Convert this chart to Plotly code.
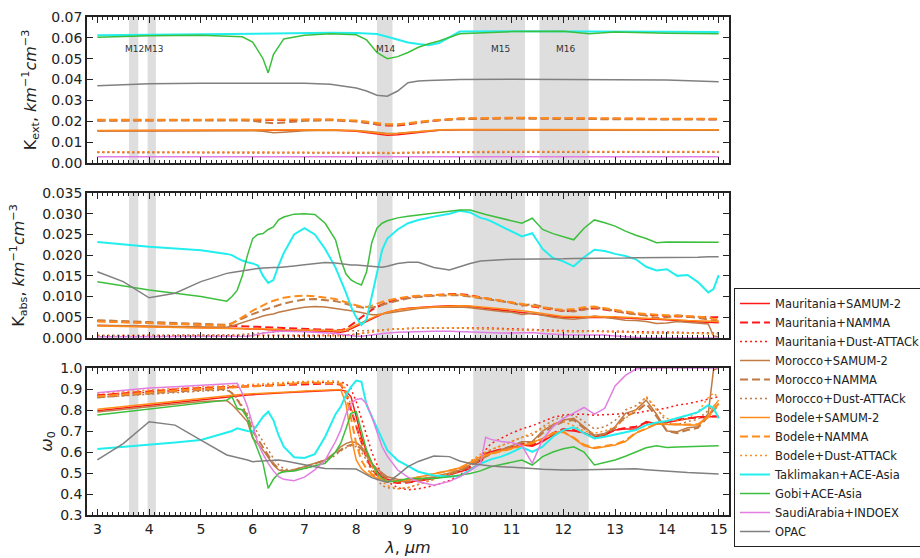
import plotly.graph_objects as go

# ---------------- wavelength grids (µm) ----------------
P1_WL = [3.0, 4.0, 5.0, 5.8, 6.0,
         6.2, 6.3, 6.4, 6.6, 7.0,
         7.5, 8.0, 8.2, 8.4, 8.6,
         8.8, 9.0, 9.2, 9.4, 9.6,
         10.0, 11.0, 12.0, 12.5, 13.0,
         14.0, 15.0]

WL = [3.0, 3.5, 4.0, 4.5, 5.0,
      5.5, 5.6, 5.7, 5.8, 5.9,
      6.0, 6.1, 6.2, 6.3, 6.4,
      6.5, 6.6, 6.8, 7.0, 7.2,
      7.4, 7.6, 7.7, 7.8, 7.9,
      8.0, 8.1, 8.2, 8.3, 8.4,
      8.5, 8.6, 8.8, 9.0, 9.2,
      9.5, 9.8, 10.0, 10.2, 10.4,
      10.5, 10.6, 10.8, 11.0, 11.2,
      11.4, 11.6, 11.8, 12.0, 12.2,
      12.4, 12.6, 12.8, 13.0, 13.2,
      13.4, 13.6, 13.8, 14.0, 14.2,
      14.4, 14.6, 14.8, 14.9, 15.0]

# ---------------- panel 1: K_ext ----------------
KEXT_MAU_SAM = [0.0155, 0.0156, 0.0157, 0.0157, 0.0157,
                0.0157, 0.0157, 0.0157, 0.0157, 0.0158,
                0.0158, 0.0152, 0.0145, 0.0138, 0.0133,
                0.0135, 0.0140, 0.0148, 0.0153, 0.0157,
                0.0160, 0.0160, 0.0158, 0.0159, 0.0159,
                0.0158, 0.0158]
KEXT_MAU_NAM = [0.0205, 0.0206, 0.0207, 0.0207, 0.0207,
                0.0206, 0.0205, 0.0205, 0.0206, 0.0207,
                0.0207, 0.0200, 0.0192, 0.0185, 0.0180,
                0.0180, 0.0185, 0.0193, 0.0200, 0.0205,
                0.0212, 0.0216, 0.0212, 0.0213, 0.0212,
                0.0210, 0.0210]
KEXT_MAU_DA = [0.0052, 0.0052, 0.0052, 0.0052, 0.0052,
               0.0052, 0.0052, 0.0052, 0.0052, 0.0052,
               0.0052, 0.0051, 0.0050, 0.0049, 0.0048,
               0.0048, 0.0049, 0.0050, 0.0051, 0.0052,
               0.0053, 0.0053, 0.0053, 0.0053, 0.0053,
               0.0053, 0.0053]
KEXT_MOR_SAM = [0.0154, 0.0155, 0.0156, 0.0156, 0.0155,
                0.0152, 0.0148, 0.0145, 0.0148, 0.0155,
                0.0157, 0.0156, 0.0152, 0.0146, 0.0142,
                0.0143, 0.0147, 0.0152, 0.0155, 0.0157,
                0.0159, 0.0159, 0.0158, 0.0158, 0.0159,
                0.0158, 0.0157]
KEXT_MOR_NAM = [0.0203, 0.0204, 0.0205, 0.0204, 0.0202,
                0.0198, 0.0193, 0.0190, 0.0194, 0.0202,
                0.0205, 0.0200, 0.0193, 0.0187, 0.0183,
                0.0183, 0.0188, 0.0195, 0.0201, 0.0205,
                0.0210, 0.0213, 0.0211, 0.0211, 0.0211,
                0.0209, 0.0208]
KEXT_MOR_DA = [0.0050, 0.0050, 0.0050, 0.0050, 0.0050,
               0.0049, 0.0048, 0.0048, 0.0049, 0.0050,
               0.0050, 0.0049, 0.0048, 0.0047, 0.0046,
               0.0046, 0.0047, 0.0048, 0.0049, 0.0050,
               0.0051, 0.0051, 0.0051, 0.0051, 0.0051,
               0.0051, 0.0051]
KEXT_BOD_SAM = [0.0156, 0.0157, 0.0158, 0.0158, 0.0158,
                0.0158, 0.0158, 0.0158, 0.0158, 0.0159,
                0.0159, 0.0155, 0.0150, 0.0143, 0.0139,
                0.0141, 0.0146, 0.0152, 0.0156, 0.0159,
                0.0161, 0.0161, 0.0160, 0.0160, 0.0161,
                0.0160, 0.0160]
KEXT_BOD_NAM = [0.0207, 0.0208, 0.0209, 0.0209, 0.0209,
                0.0209, 0.0208, 0.0208, 0.0208, 0.0209,
                0.0209, 0.0204, 0.0197, 0.0190, 0.0186,
                0.0186, 0.0190, 0.0197, 0.0203, 0.0207,
                0.0214, 0.0217, 0.0214, 0.0214, 0.0214,
                0.0212, 0.0212]
KEXT_BOD_DA = [0.0054, 0.0054, 0.0054, 0.0054, 0.0054,
               0.0054, 0.0054, 0.0054, 0.0054, 0.0054,
               0.0054, 0.0053, 0.0052, 0.0051, 0.0050,
               0.0050, 0.0051, 0.0052, 0.0053, 0.0054,
               0.0055, 0.0055, 0.0055, 0.0055, 0.0055,
               0.0055, 0.0055]
KEXT_TAK = [0.0612, 0.0615, 0.0618, 0.0620, 0.0621,
            0.0621, 0.0620, 0.0621, 0.0622, 0.0623,
            0.0624, 0.0623, 0.0622, 0.0618, 0.0605,
            0.0590, 0.0578, 0.0570, 0.0565, 0.0575,
            0.0630, 0.0632, 0.0632, 0.0630, 0.0630,
            0.0629, 0.0628]
KEXT_GOB = [0.0603, 0.0610, 0.0612, 0.0605, 0.0580,
            0.0500, 0.0432, 0.0520, 0.0595, 0.0612,
            0.0620, 0.0615, 0.0590, 0.0530, 0.0500,
            0.0510, 0.0530, 0.0555, 0.0572, 0.0585,
            0.0620, 0.0630, 0.0632, 0.0620, 0.0628,
            0.0622, 0.0620]
KEXT_SAU = [0.0030, 0.0030, 0.0030, 0.0030, 0.0030,
            0.0030, 0.0030, 0.0030, 0.0030, 0.0030,
            0.0030, 0.0030, 0.0030, 0.0029, 0.0029,
            0.0029, 0.0029, 0.0030, 0.0030, 0.0030,
            0.0030, 0.0030, 0.0030, 0.0030, 0.0030,
            0.0030, 0.0030]
KEXT_OPAC = [0.0370, 0.0380, 0.0382, 0.0383, 0.0383,
             0.0383, 0.0383, 0.0383, 0.0383, 0.0382,
             0.0378, 0.0360, 0.0345, 0.0325, 0.0320,
             0.0345, 0.0385, 0.0393, 0.0395, 0.0396,
             0.0400, 0.0401, 0.0400, 0.0400, 0.0402,
             0.0398, 0.0390]

# ---------------- panel 2: K_abs ----------------
KABS_MAU_SAM = [0.0030, 0.0029, 0.0028, 0.0027, 0.0026,
                0.0024, 0.0024, 0.0023, 0.0023, 0.0022,
                0.0022, 0.0021, 0.0021, 0.0020, 0.0020,
                0.0019, 0.0019, 0.0018, 0.0018, 0.0017,
                0.0016, 0.0015, 0.0014, 0.0016, 0.0022,
                0.0028, 0.0034, 0.0040, 0.0047, 0.0052,
                0.0058, 0.0062, 0.0068, 0.0072, 0.0074,
                0.0076, 0.0078, 0.0078, 0.0076, 0.0073,
                0.0072, 0.0071, 0.0068, 0.0065, 0.0062,
                0.0058, 0.0055, 0.0052, 0.0050, 0.0050,
                0.0049, 0.0050, 0.0050, 0.0049, 0.0048,
                0.0046, 0.0045, 0.0045, 0.0044, 0.0042,
                0.0040, 0.0039, 0.0038, 0.0038, 0.0037]
KABS_MAU_NAM = [0.0041, 0.0039, 0.0037, 0.0035, 0.0033,
                0.0031, 0.0030, 0.0030, 0.0029, 0.0028,
                0.0028, 0.0027, 0.0026, 0.0026, 0.0025,
                0.0025, 0.0024, 0.0023, 0.0022, 0.0021,
                0.0020, 0.0019, 0.0019, 0.0022, 0.0030,
                0.0040, 0.0050, 0.0060, 0.0068, 0.0075,
                0.0081, 0.0086, 0.0093, 0.0098, 0.0101,
                0.0104, 0.0106, 0.0106, 0.0103, 0.0098,
                0.0096, 0.0094, 0.0090, 0.0086, 0.0081,
                0.0076, 0.0072, 0.0068, 0.0065, 0.0066,
                0.0070, 0.0072, 0.0068, 0.0064, 0.0061,
                0.0058, 0.0056, 0.0054, 0.0053, 0.0052,
                0.0051, 0.0050, 0.0050, 0.0050, 0.0050]
KABS_MAU_DA = [0.0006, 0.0006, 0.0006, 0.0006, 0.0006,
               0.0006, 0.0006, 0.0006, 0.0006, 0.0006,
               0.0006, 0.0006, 0.0006, 0.0006, 0.0006,
               0.0006, 0.0006, 0.0006, 0.0006, 0.0006,
               0.0006, 0.0006, 0.0006, 0.0007, 0.0008,
               0.0009, 0.0011, 0.0013, 0.0015, 0.0017,
               0.0019, 0.0020, 0.0022, 0.0023, 0.0024,
               0.0025, 0.0025, 0.0025, 0.0025, 0.0024,
               0.0024, 0.0024, 0.0023, 0.0022, 0.0021,
               0.0020, 0.0019, 0.0018, 0.0017, 0.0017,
               0.0017, 0.0017, 0.0017, 0.0016, 0.0016,
               0.0015, 0.0015, 0.0014, 0.0014, 0.0014,
               0.0013, 0.0013, 0.0013, 0.0012, 0.0012]
KABS_MOR_SAM = [0.0031, 0.0030, 0.0029, 0.0028, 0.0027,
                0.0026, 0.0029, 0.0033, 0.0037, 0.0042,
                0.0046, 0.0050, 0.0053, 0.0056, 0.0058,
                0.0062, 0.0065, 0.0070, 0.0074, 0.0076,
                0.0075, 0.0072, 0.0070, 0.0068, 0.0066,
                0.0064, 0.0061, 0.0058, 0.0056, 0.0056,
                0.0058, 0.0060, 0.0064, 0.0068, 0.0071,
                0.0074, 0.0075, 0.0075, 0.0073, 0.0070,
                0.0068, 0.0066, 0.0064, 0.0062, 0.0057,
                0.0060, 0.0055, 0.0050, 0.0047, 0.0045,
                0.0048, 0.0053, 0.0050, 0.0046, 0.0043,
                0.0042, 0.0040, 0.0035, 0.0036, 0.0040,
                0.0038, 0.0036, 0.0034, 0.0005, 0.0003]
KABS_MOR_NAM = [0.0043, 0.0041, 0.0038, 0.0036, 0.0034,
                0.0032, 0.0036, 0.0041, 0.0047, 0.0053,
                0.0058, 0.0063, 0.0067, 0.0071, 0.0075,
                0.0079, 0.0083, 0.0089, 0.0093, 0.0094,
                0.0092, 0.0089, 0.0086, 0.0082, 0.0079,
                0.0076, 0.0074, 0.0072, 0.0073, 0.0076,
                0.0080, 0.0084, 0.0090, 0.0096, 0.0099,
                0.0102, 0.0103, 0.0103, 0.0100, 0.0096,
                0.0094, 0.0093, 0.0089, 0.0085, 0.0078,
                0.0082, 0.0075, 0.0070, 0.0066, 0.0064,
                0.0068, 0.0074, 0.0070, 0.0066, 0.0060,
                0.0057, 0.0054, 0.0048, 0.0050, 0.0055,
                0.0052, 0.0048, 0.0045, 0.0042, 0.0040]
KABS_MOR_DA = [0.0006, 0.0006, 0.0006, 0.0006, 0.0006,
               0.0006, 0.0007, 0.0008, 0.0009, 0.0010,
               0.0011, 0.0012, 0.0013, 0.0014, 0.0015,
               0.0016, 0.0017, 0.0018, 0.0019, 0.0019,
               0.0019, 0.0018, 0.0018, 0.0017, 0.0017,
               0.0017, 0.0017, 0.0017, 0.0018, 0.0019,
               0.0020, 0.0021, 0.0022, 0.0023, 0.0024,
               0.0024, 0.0024, 0.0024, 0.0023, 0.0022,
               0.0022, 0.0021, 0.0021, 0.0020, 0.0019,
               0.0020, 0.0018, 0.0016, 0.0015, 0.0015,
               0.0016, 0.0017, 0.0016, 0.0015, 0.0014,
               0.0013, 0.0012, 0.0011, 0.0012, 0.0013,
               0.0012, 0.0011, 0.0010, 0.0010, 0.0010]
KABS_BOD_SAM = [0.0029, 0.0028, 0.0027, 0.0026, 0.0025,
                0.0024, 0.0024, 0.0023, 0.0023, 0.0023,
                0.0022, 0.0022, 0.0022, 0.0021, 0.0021,
                0.0021, 0.0020, 0.0020, 0.0019, 0.0019,
                0.0018, 0.0018, 0.0018, 0.0020, 0.0026,
                0.0032, 0.0038, 0.0044, 0.0050, 0.0054,
                0.0058, 0.0062, 0.0068, 0.0071, 0.0073,
                0.0075, 0.0077, 0.0078, 0.0077, 0.0075,
                0.0074, 0.0073, 0.0071, 0.0069, 0.0066,
                0.0063, 0.0059, 0.0055, 0.0052, 0.0052,
                0.0051, 0.0052, 0.0052, 0.0051, 0.0050,
                0.0049, 0.0048, 0.0047, 0.0046, 0.0044,
                0.0042, 0.0041, 0.0040, 0.0040, 0.0040]
KABS_BOD_NAM = [0.0040, 0.0038, 0.0036, 0.0034, 0.0032,
                0.0030, 0.0035, 0.0042, 0.0050, 0.0058,
                0.0066, 0.0073, 0.0079, 0.0085, 0.0090,
                0.0094, 0.0097, 0.0101, 0.0102, 0.0101,
                0.0098, 0.0094, 0.0090, 0.0086, 0.0082,
                0.0079, 0.0076, 0.0075, 0.0078, 0.0083,
                0.0087, 0.0091, 0.0096, 0.0100, 0.0102,
                0.0104, 0.0105, 0.0105, 0.0102, 0.0098,
                0.0096, 0.0094, 0.0090, 0.0087, 0.0082,
                0.0078, 0.0074, 0.0070, 0.0068, 0.0070,
                0.0074, 0.0076, 0.0072, 0.0068, 0.0064,
                0.0060, 0.0058, 0.0056, 0.0055, 0.0054,
                0.0053, 0.0052, 0.0050, 0.0046, 0.0044]
KABS_BOD_DA = [0.0005, 0.0005, 0.0005, 0.0005, 0.0005,
               0.0005, 0.0005, 0.0006, 0.0006, 0.0006,
               0.0006, 0.0006, 0.0006, 0.0005, 0.0005,
               0.0004, 0.0004, 0.0004, 0.0004, 0.0004,
               0.0004, 0.0004, 0.0004, 0.0005, 0.0007,
               0.0009, 0.0011, 0.0013, 0.0015, 0.0017,
               0.0019, 0.0020, 0.0022, 0.0023, 0.0024,
               0.0025, 0.0025, 0.0025, 0.0024, 0.0023,
               0.0023, 0.0022, 0.0021, 0.0020, 0.0019,
               0.0018, 0.0017, 0.0016, 0.0016, 0.0016,
               0.0016, 0.0016, 0.0016, 0.0015, 0.0014,
               0.0013, 0.0012, 0.0012, 0.0012, 0.0012,
               0.0012, 0.0011, 0.0010, 0.0010, 0.0010]
KABS_TAK = [0.0232, 0.0226, 0.0220, 0.0216, 0.0212,
            0.0203, 0.0200, 0.0193, 0.0187, 0.0183,
            0.0180, 0.0175, 0.0150, 0.0133, 0.0140,
            0.0175, 0.0205, 0.0250, 0.0265, 0.0250,
            0.0215, 0.0170, 0.0140, 0.0110, 0.0075,
            0.0050, 0.0031, 0.0045, 0.0100, 0.0160,
            0.0212, 0.0240, 0.0262, 0.0277, 0.0285,
            0.0293, 0.0300, 0.0307, 0.0303, 0.0290,
            0.0287, 0.0282, 0.0269, 0.0258, 0.0245,
            0.0253, 0.0215, 0.0193, 0.0185, 0.0173,
            0.0195, 0.0213, 0.0210, 0.0203, 0.0198,
            0.0190, 0.0172, 0.0163, 0.0166, 0.0150,
            0.0152, 0.0135, 0.0110, 0.0118, 0.0152]
KABS_GOB = [0.0136, 0.0126, 0.0116, 0.0108, 0.0100,
            0.0089, 0.0100, 0.0115, 0.0150, 0.0200,
            0.0240, 0.0250, 0.0252, 0.0262, 0.0268,
            0.0285, 0.0292, 0.0299, 0.0300, 0.0298,
            0.0277, 0.0237, 0.0190, 0.0155, 0.0140,
            0.0133, 0.0128, 0.0160, 0.0230, 0.0265,
            0.0277, 0.0283, 0.0290, 0.0294, 0.0297,
            0.0302, 0.0306, 0.0309, 0.0309, 0.0301,
            0.0298, 0.0295, 0.0289, 0.0284, 0.0277,
            0.0289, 0.0262, 0.0252, 0.0245, 0.0237,
            0.0265, 0.0285, 0.0278, 0.0270, 0.0258,
            0.0248, 0.0240, 0.0230, 0.0232, 0.0232,
            0.0231, 0.0231, 0.0231, 0.0231, 0.0231]
KABS_SAU = [0.0003, 0.0003, 0.0003, 0.0003, 0.0003,
            0.0003, 0.0003, 0.0003, 0.0003, 0.0004,
            0.0006, 0.0009, 0.0012, 0.0013, 0.0015,
            0.0016, 0.0016, 0.0016, 0.0015, 0.0014,
            0.0013, 0.0011, 0.0009, 0.0007, 0.0005,
            0.0004, 0.0004, 0.0005, 0.0007, 0.0009,
            0.0011, 0.0012, 0.0014, 0.0015, 0.0016,
            0.0016, 0.0016, 0.0015, 0.0015, 0.0014,
            0.0012, 0.0012, 0.0012, 0.0012, 0.0012,
            0.0013, 0.0011, 0.0009, 0.0008, 0.0007,
            0.0007, 0.0008, 0.0007, 0.0005, 0.0003,
            0.0001, 0.0000, 0.0000, 0.0000, 0.0000,
            0.0000, 0.0000, 0.0000, 0.0000, 0.0000]
KABS_OPAC = [0.0160, 0.0136, 0.0097, 0.0108, 0.0136,
             0.0156, 0.0158, 0.0160, 0.0163, 0.0165,
             0.0167, 0.0168, 0.0169, 0.0170, 0.0170,
             0.0170, 0.0171, 0.0174, 0.0177, 0.0180,
             0.0182, 0.0181, 0.0179, 0.0177, 0.0176,
             0.0176, 0.0175, 0.0174, 0.0173, 0.0172,
             0.0171, 0.0173, 0.0180, 0.0183, 0.0183,
             0.0170, 0.0164, 0.0172, 0.0180, 0.0186,
             0.0187, 0.0188, 0.0189, 0.0190, 0.0190,
             0.0190, 0.0191, 0.0191, 0.0191, 0.0192,
             0.0192, 0.0192, 0.0193, 0.0193, 0.0193,
             0.0194, 0.0194, 0.0194, 0.0195, 0.0195,
             0.0195, 0.0195, 0.0196, 0.0196, 0.0196]

# ---------------- panel 3: single scattering albedo ----------------
W0_MAU_SAM = [0.797, 0.810, 0.824, 0.838, 0.851,
              0.863, 0.866, 0.868, 0.870, 0.872,
              0.873, 0.875, 0.876, 0.877, 0.879,
              0.880, 0.882, 0.884, 0.887, 0.889,
              0.891, 0.894, 0.895, 0.890, 0.863,
              0.768, 0.673, 0.600, 0.546, 0.510,
              0.482, 0.470, 0.462, 0.458, 0.462,
              0.474, 0.490, 0.506, 0.520, 0.545,
              0.595, 0.601, 0.609, 0.620, 0.633,
              0.628, 0.650, 0.680, 0.704, 0.700,
              0.692, 0.665, 0.680, 0.705, 0.709,
              0.709, 0.745, 0.735, 0.740, 0.750,
              0.760, 0.768, 0.768, 0.768, 0.768]
W0_MAU_NAM = [0.870, 0.880, 0.890, 0.898, 0.905,
              0.910, 0.911, 0.912, 0.913, 0.914,
              0.915, 0.916, 0.917, 0.918, 0.919,
              0.920, 0.921, 0.922, 0.923, 0.924,
              0.925, 0.925, 0.920, 0.880, 0.800,
              0.720, 0.640, 0.570, 0.520, 0.490,
              0.470, 0.460, 0.452, 0.455, 0.462,
              0.478, 0.495, 0.510, 0.530, 0.560,
              0.590, 0.600, 0.612, 0.625, 0.640,
              0.632, 0.655, 0.690, 0.710, 0.705,
              0.690, 0.670, 0.685, 0.705, 0.715,
              0.720, 0.740, 0.735, 0.745, 0.755,
              0.760, 0.765, 0.770, 0.770, 0.770]
W0_MAU_DA = [0.870, 0.878, 0.886, 0.893, 0.900,
             0.905, 0.906, 0.908, 0.910, 0.912,
             0.914, 0.916, 0.918, 0.920, 0.922,
             0.924, 0.926, 0.928, 0.930, 0.931,
             0.932, 0.933, 0.933, 0.925, 0.900,
             0.840, 0.760, 0.680, 0.600, 0.540,
             0.490, 0.460, 0.430, 0.420, 0.425,
             0.440, 0.465, 0.490, 0.530, 0.570,
             0.610, 0.640, 0.665, 0.690, 0.710,
             0.725, 0.745, 0.765, 0.776, 0.780,
             0.780, 0.775, 0.778, 0.780, 0.782,
             0.785, 0.795, 0.800, 0.810, 0.823,
             0.830, 0.840, 0.850, 0.857, 0.863]
W0_MOR_SAM = [0.790, 0.803, 0.816, 0.829, 0.840,
              0.845, 0.825, 0.800, 0.770, 0.744,
              0.665, 0.640, 0.609, 0.575, 0.538,
              0.515, 0.506, 0.515, 0.530, 0.545,
              0.562, 0.600, 0.625, 0.640, 0.649,
              0.645, 0.625, 0.590, 0.546, 0.520,
              0.500, 0.482, 0.470, 0.467, 0.472,
              0.482, 0.500, 0.514, 0.540, 0.570,
              0.580, 0.593, 0.610, 0.630, 0.649,
              0.650, 0.700, 0.730, 0.752, 0.760,
              0.720, 0.680, 0.688, 0.720, 0.784,
              0.800, 0.847, 0.780, 0.700, 0.697,
              0.715, 0.720, 0.784, 0.990, 1.000]
W0_MOR_NAM = [0.860, 0.870, 0.880, 0.888, 0.895,
              0.900, 0.880, 0.850, 0.810, 0.770,
              0.700, 0.660, 0.620, 0.580, 0.545,
              0.520, 0.510, 0.515, 0.530, 0.545,
              0.560, 0.590, 0.610, 0.625, 0.635,
              0.632, 0.615, 0.585, 0.540, 0.510,
              0.490, 0.475, 0.460, 0.458, 0.465,
              0.478, 0.495, 0.510, 0.535, 0.565,
              0.578, 0.590, 0.608, 0.628, 0.645,
              0.648, 0.690, 0.722, 0.745, 0.752,
              0.715, 0.675, 0.685, 0.715, 0.770,
              0.790, 0.830, 0.770, 0.700, 0.690,
              0.705, 0.715, 0.770, 0.800, 0.820]
W0_MOR_DA = [0.860, 0.868, 0.876, 0.884, 0.890,
             0.895, 0.880, 0.855, 0.820, 0.780,
             0.730, 0.690, 0.650, 0.610, 0.570,
             0.540, 0.520, 0.510, 0.520, 0.535,
             0.555, 0.585, 0.605, 0.620, 0.630,
             0.625, 0.600, 0.560, 0.510, 0.470,
             0.440, 0.430, 0.425, 0.430, 0.445,
             0.470, 0.500, 0.520, 0.550, 0.580,
             0.595, 0.610, 0.630, 0.650, 0.670,
             0.680, 0.720, 0.750, 0.770, 0.775,
             0.745, 0.710, 0.720, 0.750, 0.800,
             0.820, 0.860, 0.810, 0.740, 0.730,
             0.745, 0.755, 0.800, 0.820, 0.830]
W0_BOD_SAM = [0.803, 0.816, 0.830, 0.843, 0.857,
              0.868, 0.871, 0.873, 0.875, 0.876,
              0.878, 0.879, 0.880, 0.881, 0.882,
              0.884, 0.885, 0.887, 0.890, 0.892,
              0.894, 0.897, 0.898, 0.831, 0.673,
              0.562, 0.520, 0.498, 0.485, 0.475,
              0.467, 0.463, 0.460, 0.470, 0.482,
              0.498, 0.512, 0.525, 0.550, 0.578,
              0.585, 0.593, 0.605, 0.617, 0.630,
              0.645, 0.665, 0.690, 0.697, 0.665,
              0.630, 0.617, 0.625, 0.633, 0.650,
              0.690, 0.710, 0.733, 0.731, 0.729,
              0.729, 0.729, 0.770, 0.815, 0.847]
W0_BOD_NAM = [0.865, 0.875, 0.885, 0.893, 0.900,
              0.905, 0.906, 0.907, 0.908, 0.909,
              0.910, 0.912, 0.914, 0.916, 0.918,
              0.920, 0.925, 0.928, 0.930, 0.930,
              0.930, 0.928, 0.925, 0.880, 0.760,
              0.640, 0.560, 0.520, 0.495, 0.480,
              0.470, 0.465, 0.460, 0.468, 0.480,
              0.495, 0.510, 0.522, 0.545, 0.575,
              0.585, 0.592, 0.603, 0.615, 0.628,
              0.642, 0.662, 0.688, 0.695, 0.668,
              0.635, 0.620, 0.628, 0.636, 0.655,
              0.692, 0.712, 0.735, 0.733, 0.731,
              0.731, 0.732, 0.765, 0.800, 0.830]
W0_BOD_DA = [0.880, 0.888, 0.896, 0.903, 0.910,
             0.915, 0.916, 0.917, 0.918, 0.919,
             0.920, 0.922, 0.924, 0.926, 0.928,
             0.930, 0.932, 0.934, 0.936, 0.937,
             0.938, 0.938, 0.935, 0.900, 0.820,
             0.720, 0.640, 0.580, 0.530, 0.490,
             0.460, 0.440, 0.425, 0.430, 0.445,
             0.470, 0.500, 0.520, 0.555, 0.590,
             0.600, 0.612, 0.630, 0.650, 0.670,
             0.690, 0.710, 0.735, 0.745, 0.725,
             0.700, 0.690, 0.700, 0.720, 0.760,
             0.800, 0.866, 0.800, 0.760, 0.750,
             0.760, 0.790, 0.860, 0.880, 0.860]
W0_TAK = [0.614, 0.624, 0.633, 0.645, 0.657,
          0.690, 0.700, 0.713, 0.705, 0.700,
          0.697, 0.730, 0.768, 0.792, 0.752,
          0.680, 0.625, 0.575, 0.572, 0.590,
          0.673, 0.780, 0.815, 0.870, 0.910,
          0.940, 0.935, 0.823, 0.770, 0.720,
          0.660, 0.609, 0.560, 0.535, 0.506,
          0.488, 0.483, 0.485, 0.515, 0.545,
          0.555, 0.565, 0.578, 0.598, 0.622,
          0.601, 0.625, 0.673, 0.704, 0.718,
          0.690, 0.665, 0.673, 0.683, 0.695,
          0.705, 0.728, 0.740, 0.748, 0.760,
          0.775, 0.790, 0.823, 0.810, 0.760]
W0_GOB = [0.776, 0.790, 0.805, 0.820, 0.835,
          0.847, 0.863, 0.808, 0.800, 0.760,
          0.673, 0.610, 0.546, 0.427, 0.470,
          0.498, 0.506, 0.510, 0.522, 0.532,
          0.546, 0.600, 0.641, 0.710, 0.784,
          0.792, 0.704, 0.609, 0.550, 0.498,
          0.475, 0.458, 0.462, 0.474, 0.474,
          0.474, 0.482, 0.490, 0.498, 0.510,
          0.520, 0.530, 0.540, 0.552, 0.562,
          0.538, 0.578, 0.600, 0.615, 0.625,
          0.600, 0.538, 0.550, 0.562, 0.580,
          0.601, 0.620, 0.630, 0.622, 0.624,
          0.626, 0.628, 0.630, 0.630, 0.630]
W0_SAU = [0.882, 0.893, 0.905, 0.911, 0.917,
          0.923, 0.925, 0.927, 0.880, 0.815,
          0.730, 0.641, 0.590, 0.546, 0.510,
          0.483, 0.470, 0.463, 0.480, 0.515,
          0.561, 0.650, 0.704, 0.780, 0.831,
          0.850, 0.855, 0.830, 0.768, 0.700,
          0.625, 0.580, 0.514, 0.480, 0.458,
          0.442, 0.460, 0.482, 0.510, 0.545,
          0.670, 0.660, 0.650, 0.645, 0.630,
          0.546, 0.660, 0.720, 0.760, 0.785,
          0.812, 0.780, 0.808, 0.915, 0.965,
          0.995, 1.000, 1.000, 1.000, 1.000,
          1.000, 1.000, 1.000, 1.000, 1.000]
W0_OPAC = [0.562, 0.640, 0.744, 0.728, 0.657,
           0.586, 0.580, 0.575, 0.568, 0.562,
           0.554, 0.556, 0.558, 0.560, 0.562,
           0.562, 0.558, 0.548, 0.538, 0.530,
           0.522, 0.521, 0.520, 0.520, 0.519,
           0.519, 0.505, 0.490, 0.478, 0.470,
           0.462, 0.455, 0.490, 0.530, 0.555,
           0.581, 0.578, 0.557, 0.545, 0.538,
           0.535, 0.533, 0.530, 0.528, 0.525,
           0.522, 0.518, 0.515, 0.514, 0.514,
           0.515, 0.516, 0.518, 0.520, 0.522,
           0.520, 0.516, 0.512, 0.508, 0.505,
           0.502, 0.500, 0.497, 0.496, 0.495]

# VIIRS bands
BAND_NAMES = ["M12M13", "M14", "M15", "M16"]
BAND_LABEL_X = [3.9, 8.57, 10.79, 12.04]
BAND_LO = [3.61, 3.97, 8.40, 10.26, 11.54]
BAND_HI = [3.79, 4.13, 8.70, 11.26, 12.49]

SERIES = ["Mauritania+SAMUM-2", "Mauritania+NAMMA", "Mauritania+Dust-ATTACk",
          "Morocco+SAMUM-2", "Morocco+NAMMA", "Morocco+Dust-ATTACk",
          "Bodele+SAMUM-2", "Bodele+NAMMA", "Bodele+Dust-ATTACk",
          "Taklimakan+ACE-Asia", "Gobi+ACE-Asia", "SaudiArabia+INDOEX", "OPAC"]

KEXT = [KEXT_MAU_SAM, KEXT_MAU_NAM, KEXT_MAU_DA, KEXT_MOR_SAM, KEXT_MOR_NAM, KEXT_MOR_DA,
        KEXT_BOD_SAM, KEXT_BOD_NAM, KEXT_BOD_DA, KEXT_TAK, KEXT_GOB, KEXT_SAU, KEXT_OPAC]
KABS = [KABS_MAU_SAM, KABS_MAU_NAM, KABS_MAU_DA, KABS_MOR_SAM, KABS_MOR_NAM, KABS_MOR_DA,
        KABS_BOD_SAM, KABS_BOD_NAM, KABS_BOD_DA, KABS_TAK, KABS_GOB, KABS_SAU, KABS_OPAC]
W0 = [W0_MAU_SAM, W0_MAU_NAM, W0_MAU_DA, W0_MOR_SAM, W0_MOR_NAM, W0_MOR_DA,
      W0_BOD_SAM, W0_BOD_NAM, W0_BOD_DA, W0_TAK, W0_GOB, W0_SAU, W0_OPAC]

# styles
RED, BROWN, ORANGE = "#ff1a1a", "#c07a45", "#ff8c1a"
COLORS = [RED, RED, RED, BROWN, BROWN, BROWN, ORANGE, ORANGE, ORANGE,
          "#22eeee", "#3cbf3c", "#e27ee2", "#808080"]
DASHES = ["solid", "8px,4px", "2px,3px"] * 3 + ["solid"] * 4
WIDTHS = [1.5, 2.0, 1.5] * 3 + [2.0, 1.5, 1.5, 1.5]

FONT = "DejaVu Sans"
fig = go.Figure()

panels = [("x", "y", P1_WL, KEXT), ("x2", "y2", WL, KABS), ("x3", "y3", WL, W0)]
for pi, (xa, ya, xs, data) in enumerate(panels):
    for i, name in enumerate(SERIES):
        fig.add_trace(go.Scatter(
            x=xs, y=data[i], mode="lines", name=name, legendgroup=name,
            showlegend=(pi == 2), xaxis=xa, yaxis=ya,
            line=dict(color=COLORS[i], dash=DASHES[i], width=WIDTHS[i]),
        ))

# band shading
shapes = []
for xref, yref in [("x", "y domain"), ("x2", "y2 domain"), ("x3", "y3 domain")]:
    for lo, hi in zip(BAND_LO, BAND_HI):
        shapes.append(dict(type="rect", xref=xref, yref=yref, x0=lo, x1=hi, y0=0, y1=1,
                           fillcolor="#d6d6d6", line=dict(width=0), layer="below", opacity=0.8))

annotations = [dict(x=bx, y=0.0548, xref="x", yref="y", text=bn, showarrow=False,
                    font=dict(size=9, family=FONT, color="#333"))
               for bn, bx in zip(BAND_NAMES, BAND_LABEL_X)]

H_TOP, H_BOT = 17, 515
def dom(top_px, bot_px):
    span = H_BOT - H_TOP
    return [(H_BOT - bot_px) / span, (H_BOT - top_px) / span]

xcommon = dict(range=[2.8, 15.2], dtick=1, tick0=3, ticks="inside", ticklen=6, tickwidth=1,
               mirror="allticks", showline=True, linecolor="#222", linewidth=1.5,
               showgrid=False, zeroline=False, tickcolor="#222",
               minor=dict(ticks="inside", dtick=0.1, ticklen=3, tickcolor="#222", showgrid=False),
               tickfont=dict(size=14, family=FONT, color="#222"))
ycommon = dict(ticks="inside", ticklen=6, mirror="allticks", showline=True, linecolor="#222",
               linewidth=1.5, showgrid=False, zeroline=False, tickcolor="#222",
               tickfont=dict(size=14, family=FONT, color="#222"))

fig.update_layout(
    width=920, height=558,
    margin=dict(l=87, r=191, t=17, b=43, autoexpand=False),
    paper_bgcolor="white", plot_bgcolor="white",
    font=dict(family=FONT, color="#222"),
    xaxis=dict(**xcommon, domain=[0, 1], anchor="y", showticklabels=False),
    xaxis2=dict(**xcommon, domain=[0, 1], anchor="y2", showticklabels=False),
    xaxis3=dict(**xcommon, domain=[0, 1], anchor="y3",
                title=dict(text="<i>λ</i>, <i>μm</i>", font=dict(size=16, family=FONT), standoff=6)),
    yaxis=dict(**ycommon, domain=dom(17, 163), anchor="x", range=[0, 0.07], dtick=0.01,
               tickformat=".2f",
               title=dict(text="K<sub>ext</sub>, <i>km</i><sup>−1</sup><i>cm</i><sup>−3</sup>",
                          font=dict(size=16, family=FONT), standoff=11)),
    yaxis2=dict(**ycommon, domain=dom(193, 338), anchor="x2", range=[0, 0.035], dtick=0.005,
                tickformat=".3f",
                title=dict(text="K<sub>abs</sub>, <i>km</i><sup>−1</sup><i>cm</i><sup>−3</sup>",
                           font=dict(size=16, family=FONT), standoff=14)),
    yaxis3=dict(**ycommon, domain=dom(368, 515), anchor="x3", range=[0.3, 1.0], dtick=0.1,
                tickformat=".1f",
                title=dict(text="<i>ω</i><sub>0</sub>", font=dict(size=16, family=FONT), standoff=4)),
    legend=dict(x=(734 - 87) / 642, y=(515 - 288) / 498, xanchor="left", yanchor="top",
                bgcolor="white", bordercolor="#222", borderwidth=1,
                font=dict(size=11.5, family=FONT, color="#222"), tracegroupgap=0),
    shapes=shapes, annotations=annotations,
)

fig.write_html("out.html", config={"displayModeBar": False},
               post_script="document.body.style.margin='0';")
